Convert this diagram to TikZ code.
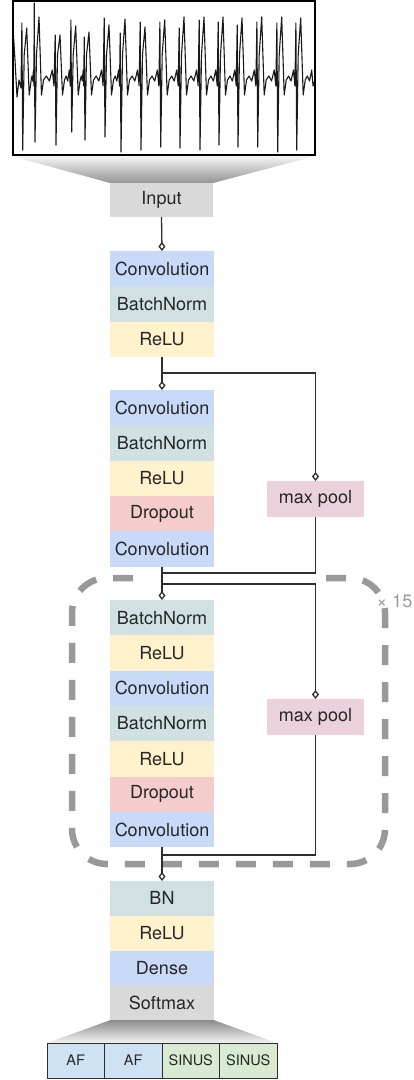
\documentclass[tikz,border=0pt]{standalone}
\usepackage{fontspec}
\setmainfont{TeX Gyre Heros}
\usetikzlibrary{arrows.meta}
\definecolor{convc}{HTML}{C9DAF8}
\definecolor{bnc}{HTML}{D0E0E3}
\definecolor{reluc}{HTML}{FFF2CC}
\definecolor{dropc}{HTML}{F4CCCC}
\definecolor{poolc}{HTML}{EAD1DC}
\definecolor{grayc}{HTML}{D9D9D9}
\definecolor{afc}{HTML}{CFE2F3}
\definecolor{sinc}{HTML}{D9EAD3}
\definecolor{txt}{HTML}{262626}
\definecolor{linec}{HTML}{2E2E2E}
\definecolor{dashc}{HTML}{999999}
\begin{document}
\begin{tikzpicture}[x=1pt,y=-1pt,
  layer/.style={minimum width=104pt,minimum height=35.3pt,inner sep=0pt,outer sep=0pt,
    font=\fontsize{18}{20}\selectfont,text=txt},
  conv/.style={layer,fill=convc},
  bn/.style={layer,fill=bnc},
  relu/.style={layer,fill=reluc},
  drop/.style={layer,fill=dropc},
  grayl/.style={layer,fill=grayc},
  pool/.style={layer,fill=poolc,minimum width=97pt,minimum height=36pt},
  outcell/.style={draw=linec,line width=1pt,minimum width=57.5pt,minimum height=35pt,
    inner sep=0pt,outer sep=0pt,font=\fontsize{14.5}{16}\selectfont,text=txt},
  conn/.style={draw=linec,line width=1.3pt,-{Diamond[open,length=9pt,width=7pt]}},
  plain/.style={draw=linec,line width=1.3pt},
  dashbox/.style={draw=dashc,line width=6.5pt,dash pattern=on 20pt off 17pt,rounded corners=35pt}
]
\useasboundingbox (0,0) rectangle (413,1080);

% ECG signal
\begin{scope}
\clip (13,2) rectangle (314,154);
\draw[line width=1.1pt,line join=round,black!90] (13,28) -- (15,60) -- (17,97) -- (19,80) -- (21,88)
 \foreach \x/\q/\d/\p/\g in {22.7/23/150/28/12.3, 35/3/142/17/21, 56/35/145/35/15.7,
   71.7/20/132/26/13.3, 85/37/140/32/20, 105/18/137/25/16, 121/33/152/19/20,
   141/22/150/27/19.7, 160.7/22/147/20/19.3, 180/28/148/17/20, 200/20/150/17/19,
   219/22/145/17/19, 238/25/147/18/19.7, 257.7/22/147/17/20, 277.7/23/152/17/19,
   296.7/23/150/18/18}
 { -- ({\x-0.8},\q) -- (\x,\d) -- ({\x+1.5},55) -- ({\x+4},\p) -- ({\x+6.5},95)
   -- ({\x+8.5},80) -- ({\x+8.5+0.25*(\g-9.3)},76) -- ({\x+8.5+0.5*(\g-9.3)},81)
   -- ({\x+8.5+0.75*(\g-9.3)},70) -- ({\x+8.5+0.9*(\g-9.3)},86) } -- (315,80);
\end{scope}
\draw[line width=2pt,black] (12.5,1) rectangle (315,155);

% funnel to input
\shade[top color=black!4,bottom color=black!42] (11.5,156) -- (315.5,156) -- (213,183) -- (110,183) -- cycle;

% repeat box
\draw[dashbox] (326,578) -- (385,578) -- (385,864) -- (72,864) -- (72,578) -- (133,578);
\node[text=dashc,font=\fontsize{18}{20}\selectfont,inner sep=0pt] (rep) at (394.5,601) {× 15};

% input
\node[grayl,minimum width=103pt,minimum height=34pt] (input) at (161.5,200) {Input};

% block 1
\node[conv,anchor=north] (c1) at (162,251) {Convolution};
\node[bn,anchor=north] (b1) at (c1.south) {BatchNorm};
\node[relu,anchor=north] (r1) at (b1.south) {ReLU};

% block 2
\node[conv,anchor=north] (c2a) at (162,390) {Convolution};
\node[bn,anchor=north] (b2) at (c2a.south) {BatchNorm};
\node[relu,anchor=north] (r2) at (b2.south) {ReLU};
\node[drop,anchor=north] (d2) at (r2.south) {Dropout};
\node[conv,anchor=north] (c2b) at (d2.south) {Convolution};

% block 3
\node[bn,anchor=north] (b3a) at (162,600) {BatchNorm};
\node[relu,anchor=north] (r3a) at (b3a.south) {ReLU};
\node[conv,anchor=north] (c3a) at (r3a.south) {Convolution};
\node[bn,anchor=north] (b3b) at (c3a.south) {BatchNorm};
\node[relu,anchor=north] (r3b) at (b3b.south) {ReLU};
\node[drop,anchor=north] (d3) at (r3b.south) {Dropout};
\node[conv,anchor=north] (c3b) at (d3.south) {Convolution};

% block 4
\node[bn,anchor=north,minimum height=34.8pt] (b4) at (162,881) {BN};
\node[relu,anchor=north,minimum height=34.8pt] (r4) at (b4.south) {ReLU};
\node[conv,anchor=north,minimum height=34.8pt] (dn) at (r4.south) {Dense};
\node[grayl,anchor=north,minimum height=34.8pt] (sm) at (dn.south) {Softmax};

% max pools
\node[pool] (mp1) at (315.5,499) {max pool};
\node[pool] (mp2) at (315.5,717) {max pool};

% funnel to outputs
\shade[top color=black!45,bottom color=black!4] (110,1020.2) -- (214,1020.2) -- (277,1043) -- (47,1043) -- cycle;

% outputs
\node[outcell,fill=afc] (o1) at (75.75,1060.5) {AF};
\node[outcell,fill=afc] (o2) at (133.25,1060.5) {AF};
\node[outcell,fill=sinc] (o3) at (190.75,1060.5) {SINUS};
\node[outcell,fill=sinc] (o4) at (248.25,1060.5) {SINUS};

% connector points
\coordinate (s1) at (162,373);
\coordinate (j1) at (162,573);
\coordinate (s2) at (162,584);
\coordinate (j2) at (162,855);

% connectors
\draw[conn] (input.south) -- (c1.north);
\draw[conn] (r1.south) -- (c2a.north);
\draw[conn] (s1) -| (mp1.north);
\draw[plain] (mp1.south) |- (j1);
\draw[conn] (c2b.south) -- (b3a.north);
\draw[conn] (s2) -| (mp2.north);
\draw[plain] (mp2.south) |- (j2);
\draw[conn] (c3b.south) -- (b4.north);
\end{tikzpicture}
\end{document}
